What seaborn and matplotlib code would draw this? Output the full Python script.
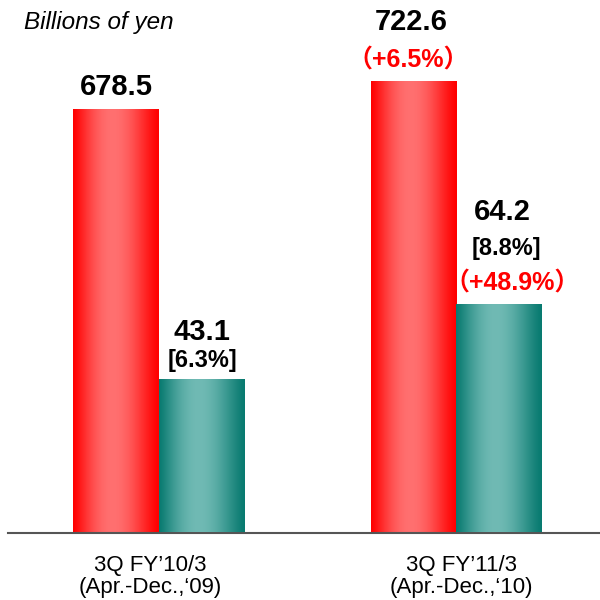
import numpy as np
import pandas as pd
import seaborn as sns
import matplotlib.pyplot as plt
from matplotlib.transforms import ScaledTranslation

# data
periods = ["3Q FY\u201910/3\n(Apr.-Dec.,\u201809)", "3Q FY\u201911/3\n(Apr.-Dec.,\u201810)"]
metrics = ["Net sales", "Operating income"]
net_sales = [678.5, 722.6]
op_income = [43.1, 64.2]
op_margin = ["[6.3%]", "[8.8%]"]
sales_growth = [None, "\uff08+6.5%\uff09"]
oi_growth = [None, "\uff08+48.9%\uff09"]

sns.set_style("white")
plt.rcParams['font.family'] = ['Liberation Sans', 'Noto Sans CJK JP', 'DejaVu Sans']
plt.rcParams['text.color'] = 'black'
plt.rcParams['xtick.color'] = 'black'

df_sales = pd.DataFrame({"period": periods, "value": net_sales, "metric": metrics[0]})
df_oi = pd.DataFrame({"period": periods, "value": op_income, "metric": metrics[1]})

fig = plt.figure(figsize=(6, 6), dpi=100)
ax = fig.add_axes([8/600, 1 - 532.5/600, 592/600, 532.5/600])
ax2 = ax.twinx()

pal = {metrics[0]: "red", metrics[1]: "teal"}
sns.barplot(data=df_sales, x="period", y="value", hue="metric", hue_order=metrics,
            order=periods, palette=pal, width=0.572, dodge=True, ax=ax, legend=False)
sns.barplot(data=df_oi, x="period", y="value", hue="metric", hue_order=metrics,
            order=periods, palette=pal, width=0.572, dodge=True, ax=ax2, legend=False)


def shade(edge, mid, n=200):
    t = np.linspace(0, 1, n)
    w = np.sin(np.pi * t ** 0.9) ** 1.3
    col = np.array(edge)[None, :] + (np.array(mid) - np.array(edge))[None, :] * w[:, None]
    return (col / 255.0)[None, :, :]


red_grad = shade((255, 0, 0), (255, 112, 112))
teal_grad = shade((8, 122, 112), (112, 186, 180))

def bars(a):
    return [p for p in a.patches if np.isfinite(p.get_height()) and p.get_height() > 0]

for a, grad in [(ax, red_grad), (ax2, teal_grad)]:
    for p in bars(a):
        x0, y0 = p.get_x(), p.get_y()
        x1, y1 = x0 + p.get_width(), y0 + p.get_height()
        im = a.imshow(grad, extent=[x0, x1, y0, y1], aspect='auto', zorder=2,
                      interpolation='bilinear')
        im.set_clip_path(p)
        p.set_facecolor('none')
        p.set_edgecolor('none')

ax.set_xlim(-0.506, 1.484)
ax.set_ylim(0, 853)
ax2.set_ylim(0, 149.5)

# labels above bars
def put(a, p, text, dy, dx=0, color='black', size=21):
    a.annotate(text, xy=(p.get_x() + p.get_width() / 2, p.get_height()),
               xytext=(dx, dy), textcoords='offset pixels', ha='center', va='center',
               fontsize=size, fontweight='bold', color=color)

rb = bars(ax)
tb = bars(ax2)
put(ax, rb[0], f"{net_sales[0]:.1f}", 22)
put(ax, rb[1], f"{net_sales[1]:.1f}", 59, dx=-2)
put(ax, rb[1], sales_growth[1], 21, dx=-5, color='red', size=18)
put(ax2, tb[0], f"{op_income[0]:.1f}", 47, dx=1)
put(ax2, tb[0], op_margin[0], 18, dx=1, size=17)
put(ax2, tb[1], f"{op_income[1]:.1f}", 92, dx=4)
put(ax2, tb[1], op_margin[1], 55, dx=8, size=17)
put(ax2, tb[1], oi_growth[1], 20, dx=14, color='red', size=18)

fig.text(24/600, 1 - 23/600, "Billions of yen", style='italic', fontsize=17.5,
         va='center', color='black')

ax.set_xticks([0, 1])
ax.set_xticklabels(periods, fontsize=16, linespacing=1.1, color='black')
ax.tick_params(axis='x', length=0, pad=16)
for lab, dx in zip(ax.get_xticklabels(), [-8, 5]):
    lab.set_transform(lab.get_transform() + ScaledTranslation(dx / 100, 0, fig.dpi_scale_trans))
ax.set_yticks([])
ax2.set_yticks([])
ax.set_xlabel("")
ax.set_ylabel("")
ax2.set_ylabel("")
for s in ["top", "left", "right"]:
    ax.spines[s].set_visible(False)
for s in ax2.spines.values():
    s.set_visible(False)
ax.spines["bottom"].set_color("#555555")
ax.spines["bottom"].set_linewidth(1.5)
ax.spines["bottom"].set_zorder(5)

fig.savefig("out.png", dpi=100)
